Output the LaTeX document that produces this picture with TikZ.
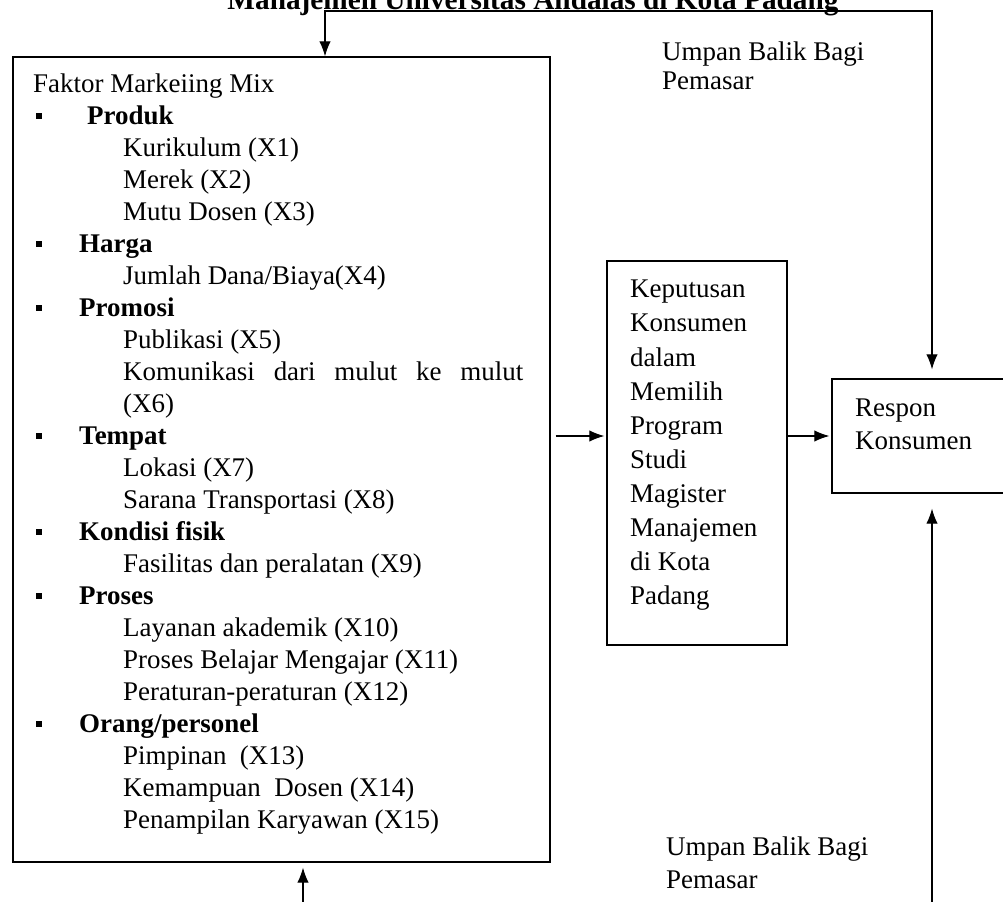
\documentclass[tikz,border=0pt]{standalone}
\usepackage{fontspec}
\setmainfont{Liberation Serif}
\usepackage{tikz}
\usetikzlibrary{
    arrows.meta,
    positioning,
    calc
}
\newlength{\pxu}
\setlength{\pxu}{0.3mm}
% list helpers for the marketing mix box
\newcommand{\bul}{\makebox[46\pxu][l]{\hspace{3\pxu}\raisebox{6\pxu}{\rule{6\pxu}{6\pxu}}}}
\newcommand{\subline}{\hspace*{90\pxu}}

\begin{document}
\begin{tikzpicture}[
    x=0.3mm, y=-0.3mm,
    box/.style={rectangle, draw, line width=1.1pt, inner sep=0pt},
    txt/.style={inner sep=0pt, align=left, anchor=north west},
    arrow/.style={-{Latex[length=4.5mm, width=3.4mm]}, line width=0.9pt},
    twoway/.style={{Latex[length=4.5mm, width=3.4mm]}-{Latex[length=4.5mm, width=3.4mm]}, line width=0.9pt}
]
\clip (0,0) rectangle (1003,902);

% === TITLE (cut at the top) ===
\node[inner sep=0pt, anchor=base, font=\fontsize{25}{30}\selectfont\bfseries] (title) at (533, 9) {Manajemen Universitas Andalas di Kota Padang};

% === MARKETING MIX (left) ===
\node[box, minimum width=537\pxu, minimum height=805\pxu] (mix) at (281.5, 459.5) {};
\node[txt, font=\fontsize{23}{27.3}\selectfont] (mixlist) at (33, 74) {%
Faktor Markeiing Mix\\
\bul\hspace{8\pxu}\textbf{Produk}\\
\subline Kurikulum (X1)\\
\subline Merek (X2)\\
\subline Mutu Dosen (X3)\\
\bul\textbf{Harga}\\
\subline Jumlah Dana/Biaya(X4)\\
\bul\textbf{Promosi}\\
\subline Publikasi (X5)\\
\subline\makebox[400\pxu][s]{Komunikasi dari mulut ke mulut}\\
\subline (X6)\\
\bul\textbf{Tempat}\\
\subline Lokasi (X7)\\
\subline Sarana Transportasi (X8)\\
\bul\textbf{Kondisi fisik}\\
\subline Fasilitas dan peralatan (X9)\\
\bul\textbf{Proses}\\
\subline Layanan akademik (X10)\\
\subline Proses Belajar Mengajar (X11)\\
\subline Peraturan-peraturan (X12)\\
\bul\textbf{Orang/personel}\\
\subline Pimpinan~~(X13)\\
\subline Kemampuan~~Dosen (X14)\\
\subline Penampilan Karyawan (X15)};

% === DECISION (middle) ===
\node[box, minimum width=180\pxu, minimum height=384\pxu] (keputusan) at (697, 453) {};
\node[txt, font=\fontsize{23}{29.1}\selectfont] (keputusantext) at (630, 280) {Keputusan\\Konsumen\\dalam\\Memilih\\Program\\Studi\\Magister\\Manajemen\\di Kota\\Padang};

% === RESPONSE (right) ===
\node[box, minimum width=188\pxu, minimum height=114\pxu] (respon) at (926, 436) {};
\node[txt, font=\fontsize{23}{28.2}\selectfont] (respontext) at (855, 399) {Respon\\Konsumen};

% Feedback labels
\node[txt, font=\fontsize{23}{24}\selectfont] (umpanatas) at (662, 42) {Umpan Balik Bagi\\Pemasar};
\node[txt, font=\fontsize{23}{28.2}\selectfont] (umpanbawah) at (666, 837) {Umpan Balik Bagi\\Pemasar};

% Main flow
\draw[arrow, shorten <=5\pxu, shorten >=2\pxu] (mix.east |- respon.west) -- (keputusan.west |- respon.west);
\draw[arrow, shorten >=2\pxu] (keputusan.east |- respon.west) -- (respon.west);

% Feedback loops
\coordinate (topleft) at (325, 11);
\coordinate (topright) at (932, 11);
\coordinate (botleft) at (303, 930);
\coordinate (botright) at (932, 930);
\draw[twoway, shorten >=9\pxu] (topleft |- mix.north) -- (topleft) -- (topright) -- (topright |- respon.north);
\draw[twoway, shorten <=5\pxu, shorten >=15\pxu] (botleft |- mix.south) -- (botleft) -- (botright) -- (botright |- respon.south);

\end{tikzpicture}
\end{document}
